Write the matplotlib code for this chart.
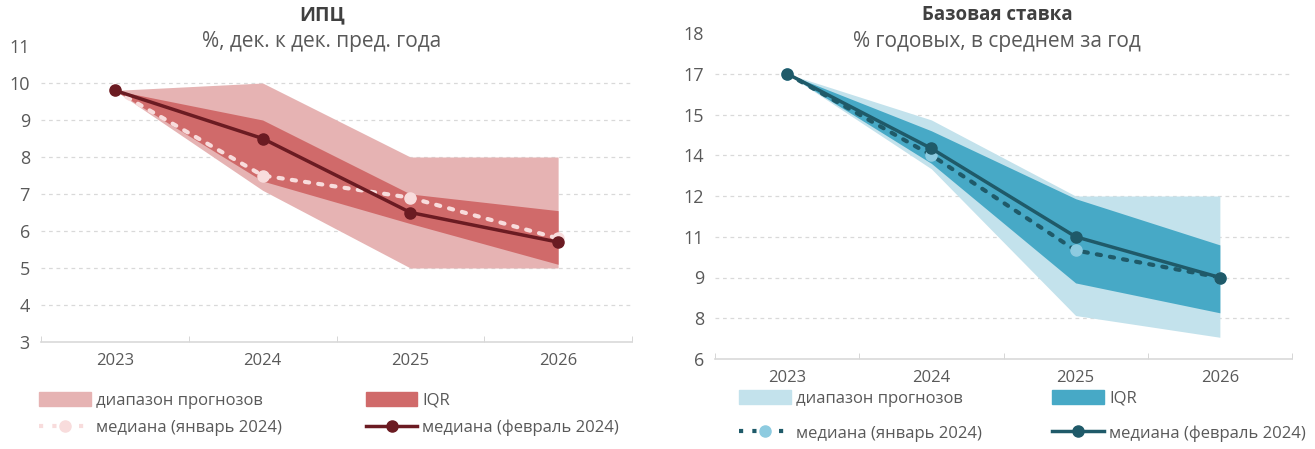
import matplotlib.pyplot as plt
import numpy as np
from matplotlib.lines import Line2D
from matplotlib.patches import Patch

plt.rcParams['font.family'] = ['Open Sans', 'DejaVu Sans']

years = ['2023', '2024', '2025', '2026']

# ИПЦ
cpi_rng_lo = [9.8, 7.1, 5.0, 5.0]
cpi_rng_hi = [9.8, 10.0, 8.0, 8.0]
cpi_iqr_lo = [9.8, 7.35, 6.2, 5.1]
cpi_iqr_hi = [9.8, 9.0, 7.0, 6.55]
cpi_jan = [9.8, 7.5, 6.9, 5.8]
cpi_feb = [9.8, 8.5, 6.5, 5.7]
cpi_ticks = [3, 4, 5, 6, 7, 8, 9, 10, 11]
cpi_labels = ['3', '4', '5', '6', '7', '8', '9', '10', '11']

# Базовая ставка
rate_rng_lo = [16.5, 13.0, 7.6, 6.8]
rate_rng_hi = [16.5, 14.8, 12.0, 12.0]
rate_iqr_lo = [16.5, 13.2, 8.8, 7.7]
rate_iqr_hi = [16.5, 14.4, 11.9, 10.2]
rate_jan = [16.5, 13.5, 10.0, 9.0]
rate_feb = [16.5, 13.75, 10.5, 9.0]
rate_ticks = [6, 7.5, 9, 10.5, 12, 13.5, 15, 16.5, 18]
rate_labels = ['6', '8', '9', '11', '12', '14', '15', '17', '18']

W, H = 1315, 449
fig = plt.figure(figsize=(W / 100, H / 100), dpi=100)
txt_c = '#595959'


def setup(ax, ticks, labels):
    ax.set_xlim(-0.5, 3.5)
    ax.set_ylim(ticks[0], ticks[-1])
    ax.set_yticks(ticks)
    ax.set_yticklabels(labels)
    ax.set_xticks(range(4))
    ax.set_xticklabels(years)
    ax.set_xticks(np.arange(-0.5, 4, 1), minor=True)
    ax.tick_params(axis='x', which='major', length=0, pad=8, labelsize=12, colors=txt_c)
    ax.tick_params(axis='x', which='minor', length=4, direction='in', color='#d0d0d0')
    ax.tick_params(axis='y', length=0, pad=8, labelsize=13, colors=txt_c)
    for s in ['top', 'right', 'left']:
        ax.spines[s].set_visible(False)
    ax.spines['bottom'].set_color('#d9d9d9')
    ax.spines['bottom'].set_linewidth(1.2)
    for t in ticks[1:-1]:
        ax.axhline(t, color='#d9d9d9', linestyle=(0, (3, 3)), linewidth=0.9, zorder=0)


x = np.arange(4)

# left chart
ax1 = fig.add_axes([41 / W, 1 - 342 / H, 591 / W, 296 / H])
setup(ax1, cpi_ticks, cpi_labels)
c_rng, c_iqr, c_feb, c_jan = '#e6b3b3', '#d06a6a', '#6b1b22', '#f8dcdc'
ax1.fill_between(x, cpi_rng_lo, cpi_rng_hi, color=c_rng, lw=0, zorder=1)
ax1.fill_between(x, cpi_iqr_lo, cpi_iqr_hi, color=c_iqr, lw=0, zorder=2)
ax1.plot(x, cpi_jan, color=c_jan, linestyle=(0, (1, 2.2)), lw=3, dash_capstyle='round',
         marker='o', ms=8, zorder=3)
ax1.plot(x, cpi_feb, color=c_feb, lw=2.5, marker='o', ms=8, zorder=4)
fig.text(322 / W, 1 - 15 / H, 'ИПЦ', ha='center', va='center', fontsize=14,
         fontweight='bold', color='#404040')
fig.text(322 / W, 1 - 42 / H, '%, дек. к дек. пред. года', ha='center', va='center',
         fontsize=15, color=txt_c)
h1 = [Patch(color=c_rng),
      Line2D([], [], color=c_jan, linestyle=(0, (1, 2.2)), lw=3, marker='o', ms=8),
      Patch(color=c_iqr),
      Line2D([], [], color=c_feb, lw=2.5, marker='o', ms=8)]
l1 = ['диапазон прогнозов', 'медиана (январь 2024)', 'IQR', 'медиана (февраль 2024)']
fig.legend(h1, l1, ncol=2, loc='upper left', bbox_to_anchor=(24 / W, 1 - 377 / H),
           frameon=False, fontsize=12, labelcolor=txt_c, handlelength=3.1,
           handletextpad=0.3, columnspacing=5.05, labelspacing=0.65, handleheight=0.9)

# right chart
ax2 = fig.add_axes([715 / W, 1 - 359 / H, 577 / W, 326 / H])
setup(ax2, rate_ticks, rate_labels)
r_rng, r_iqr, r_feb, r_jan, r_jan_m = '#c3e2ec', '#47a9c6', '#1f5a69', '#1f5a69', '#8dcbe0'
ax2.fill_between(x, rate_rng_lo, rate_rng_hi, color=r_rng, lw=0, zorder=1)
ax2.fill_between(x, rate_iqr_lo, rate_iqr_hi, color=r_iqr, lw=0, zorder=2)
ax2.plot(x, rate_jan, color=r_jan, linestyle=(0, (1, 2.2)), lw=3, dash_capstyle='round',
         marker='o', ms=8, mfc=r_jan_m, mec=r_jan_m, zorder=3)
ax2.plot(x, rate_feb, color=r_feb, lw=2.5, marker='o', ms=8, zorder=4)
fig.text(997 / W, 1 - 15 / H, 'Базовая ставка', ha='center', va='center', fontsize=13.5,
         fontweight='bold', color='#404040')
fig.text(997 / W, 1 - 42 / H, '% годовых, в среднем за год', ha='center', va='center',
         fontsize=15, color=txt_c)
h2 = [Patch(color=r_rng),
      Line2D([], [], color=r_jan, linestyle=(0, (1, 2.2)), lw=3, marker='o', ms=8,
             mfc=r_jan_m, mec=r_jan_m),
      Patch(color=r_iqr),
      Line2D([], [], color=r_feb, lw=2.5, marker='o', ms=8)]
fig.legend(h2, l1, ncol=2, loc='upper left', bbox_to_anchor=(724 / W, 1 - 375 / H),
           frameon=False, fontsize=12, labelcolor=txt_c, handlelength=3.1,
           handletextpad=0.3, columnspacing=4.25, labelspacing=1.1, handleheight=0.9)

plt.savefig('out.png', dpi=100)
